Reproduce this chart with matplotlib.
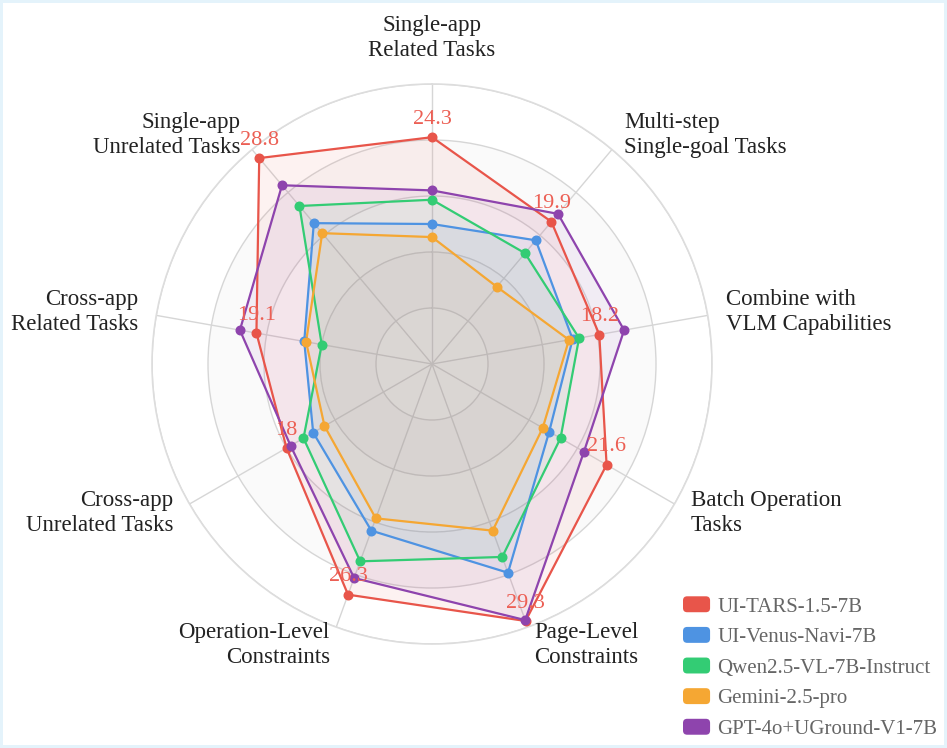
import numpy as np
import matplotlib
matplotlib.use("Agg")
import matplotlib.pyplot as plt
from matplotlib.patches import FancyBboxPatch, Patch
from matplotlib.legend_handler import HandlerPatch

plt.rcParams['font.family'] = ['Liberation Serif', 'DejaVu Serif']

# categories, clockwise from the top
categories = [
    "Single-app\nRelated Tasks",
    "Multi-step\nSingle-goal Tasks",
    "Combine with\nVLM Capabilities",
    "Batch Operation\nTasks",
    "Page-Level\nConstraints",
    "Operation-Level\nConstraints",
    "Cross-app\nUnrelated Tasks",
    "Cross-app\nRelated Tasks",
    "Single-app\nUnrelated Tasks",
]

models = ["UI-TARS-1.5-7B", "UI-Venus-Navi-7B", "Qwen2.5-VL-7B-Instruct",
          "Gemini-2.5-pro", "GPT-4o+UGround-V1-7B"]
colors = ["#e8554a", "#4e93e2", "#33cc74", "#f5a733", "#8e44ad"]

ui_tars = [24.3, 19.9, 18.2, 21.6, 29.3, 26.3, 18, 19.1, 28.8]
ui_venus = [15.0, 17.3, 15.3, 14.5, 23.8, 19.0, 14.7, 13.9, 19.7]
qwen = [17.6, 15.5, 16.0, 15.9, 22.0, 22.5, 15.9, 12.0, 22.1]
gemini = [13.6, 10.8, 14.9, 13.7, 19.0, 17.6, 13.3, 13.7, 18.3]
gpt4o = [18.6, 21.0, 20.9, 18.8, 29.2, 24.4, 17.5, 20.9, 25.0]
series = [ui_tars, ui_venus, qwen, gemini, gpt4o]

max_value = 30
ring_values = [6, 12, 18, 24, 30]

n = len(categories)
angles = np.arange(n) * 2 * np.pi / n

fig = plt.figure(figsize=(9.47, 7.48), dpi=100)
fig.patch.set_facecolor("white")
fig.patch.set_edgecolor("#e4f3fb")
fig.patch.set_linewidth(4)

W, H = 947, 748
cx, cy, R = 432, 364, 280
ax = fig.add_axes([(cx - R) / W, (H - cy - R) / H, 2 * R / W, 2 * R / H],
                  projection="polar")
ax.set_theta_offset(np.pi / 2)
ax.set_theta_direction(-1)
ax.set_ylim(0, max_value)
ax.set_facecolor("white")

# faint alternating bands
for i, rv in enumerate(ring_values):
    if i % 2 == 1:
        ax.bar(0, 6, width=2 * np.pi, bottom=rv - 6, color="#fafafa",
               edgecolor="none", zorder=0)

ax.set_yticks(ring_values)
ax.set_xticks(angles)
ax.set_yticklabels([])
ax.set_xticklabels([])
ax.grid(True, color="#d6d6d6", linewidth=1.0)
ax.spines["polar"].set_color("#dddddd")
ax.spines["polar"].set_linewidth(1.2)
ax.tick_params(length=0)

for vals, col, name in zip(series, colors, models):
    th = np.append(angles, angles[0])
    rr = np.append(vals, vals[0])
    ax.fill(th, rr, color=col, alpha=0.075, zorder=2)
    ax.plot(th, rr, color=col, linewidth=1.6, zorder=3)
    ax.plot(angles, vals, "o", color=col, markersize=6.2, zorder=4, clip_on=False)

# value labels for UI-TARS
for a, v in zip(angles, ui_tars):
    ax.annotate(f"{v:g}", (a, v), xytext=(0, 6), textcoords="offset points",
                ha="center", va="bottom", color="#ec5f54", fontsize=16,
                zorder=5, annotation_clip=False)

# category labels
label_r = 32.0
for a, lab in zip(angles, categories):
    deg = np.degrees(a)
    if deg < 1:
        ax.text(a, 32.5, lab, ha="center", va="bottom", fontsize=16.5,
                color="#222222", linespacing=1.25, multialignment="center")
    elif deg < 180:
        ax.text(a, label_r, lab, ha="left", va="center", fontsize=16.5,
                color="#222222", linespacing=1.25, multialignment="left")
    else:
        ax.text(a, label_r, lab, ha="right", va="center", fontsize=16.5,
                color="#222222", linespacing=1.25, multialignment="right")


class RoundHandler(HandlerPatch):
    def create_artists(self, legend, orig_handle, xdescent, ydescent,
                       width, height, fontsize, trans):
        p = FancyBboxPatch((-xdescent, -ydescent), width, height,
                           boxstyle="round,pad=0,rounding_size=3",
                           facecolor=orig_handle.get_facecolor(),
                           edgecolor="none", transform=trans)
        return [p]


handles = [Patch(facecolor=c, label=m) for c, m in zip(colors, models)]
leg = fig.legend(handles=handles, loc="lower left",
                 bbox_to_anchor=(683 / W, 9 / H), bbox_transform=fig.transFigure,
                 frameon=False, fontsize=15, handlelength=1.3, handleheight=0.8,
                 handletextpad=0.35, labelspacing=0.5, borderpad=0,
                 borderaxespad=0, handler_map={Patch: RoundHandler()})
for t in leg.get_texts():
    t.set_color("#666666")

fig.savefig("out.png", dpi=100, facecolor=fig.get_facecolor(),
            edgecolor=fig.get_edgecolor())
